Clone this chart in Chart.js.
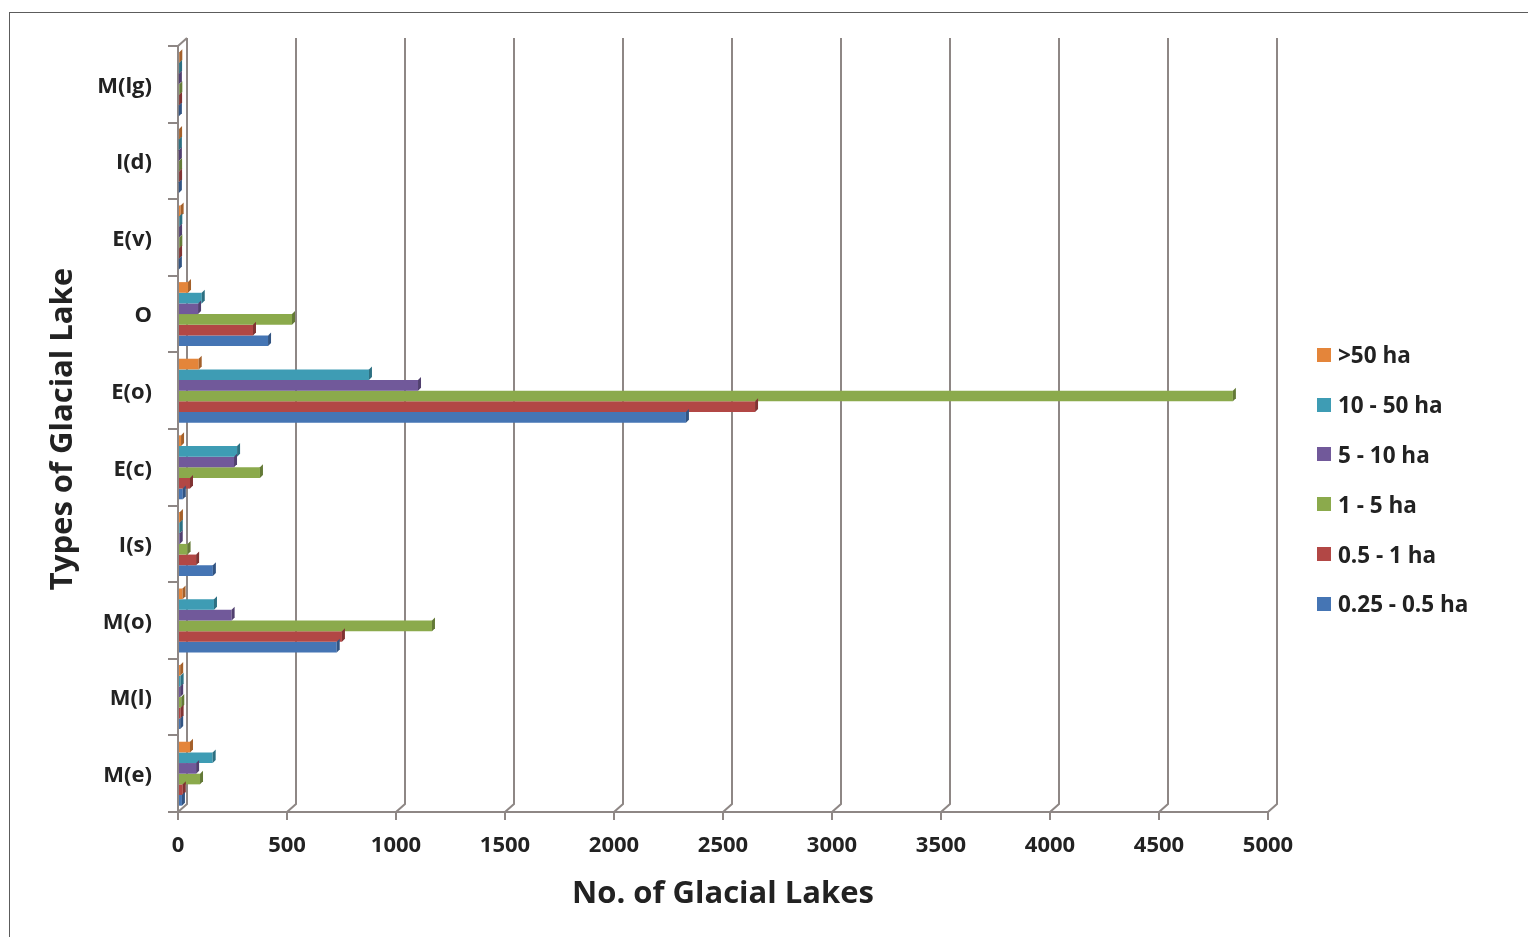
<!DOCTYPE html>
<html>
<head>
<meta charset="utf-8">
<title>Types of Glacial Lake</title>
<script src="https://cdn.jsdelivr.net/npm/chart.js@4.4.1/dist/chart.umd.min.js"></script>
<style>
  html, body { margin: 0; padding: 0; background: #fff; overflow: hidden; }
  #wrap { position: relative; width: 1528px; height: 937px; }
  #frame { position: absolute; left: 9px; top: 12px; width: 1560px; height: 960px;
           border: 1.5px solid #5c5c5c; box-sizing: border-box; }
  #chart { position: absolute; left: 0; top: 0; }
  #legend { position: absolute; left: 1317px; top: 330px; font-family: "Open Sans", Lato, sans-serif;
            font-weight: bold; font-size: 22.5px; color: #222; }
  .item { display: flex; align-items: center; height: 49.8px; white-space: nowrap; }
  .sw { width: 14px; height: 14px; margin-right: 7px; flex: none; }
</style>
</head>
<body>
<div id="wrap">
  <div id="frame"></div>
  <canvas id="chart" width="1528" height="937"></canvas>
  <div id="legend"></div>
</div>
<script>
// Lake types, top to bottom
const categories = ['M(lg)', 'I(d)', 'E(v)', 'O', 'E(o)', 'E(c)', 'I(s)', 'M(o)', 'M(l)', 'M(e)'];

// Number of lakes per size class
const over50ha   = [6, 5, 12, 46, 95, 14, 9, 21, 10, 55];
const ha10to50   = [5, 4, 6, 109, 876, 271, 8, 165, 12, 159];
const ha5to10    = [4, 4, 5, 92, 1101, 257, 8, 246, 10, 83];
const ha1to5     = [6, 5, 6, 523, 4839, 376, 44, 1165, 15, 101];
const ha05to1    = [5, 5, 5, 344, 2647, 55, 83, 752, 12, 22];
const ha025to05  = [4, 4, 4, 413, 2330, 22, 160, 728, 10, 18];

const seriesNames  = ['>50 ha', '10 - 50 ha', '5 - 10 ha', '1 - 5 ha', '0.5 - 1 ha', '0.25 - 0.5 ha'];
const seriesValues = [over50ha, ha10to50, ha5to10, ha1to5, ha05to1, ha025to05];
const seriesColors = ['#E4853A', '#3E9CB4', '#71599A', '#8BAA4C', '#B24745', '#4575B4'];

// x axis range
const xMin = 0, xMax = 5000, xStep = 500;

const FONT = '"Open Sans", Lato, sans-serif';
const TEXT = '#222';
const LINE = '#8e8785';

function shade(hex, f) {
  const n = parseInt(hex.slice(1), 16);
  const r = Math.round(((n >> 16) & 255) * f), g = Math.round(((n >> 8) & 255) * f), b = Math.round((n & 255) * f);
  return `rgb(${r},${g},${b})`;
}

// Back wall of the pseudo-3D plot: vertical grid lines shifted up-right, joined to the floor
const DX = 9, DY = 8;
const wall3d = {
  id: 'wall3d',
  beforeDatasetsDraw(chart) {
    const { ctx, chartArea: { top, bottom, left }, scales: { x } } = chart;
    ctx.save();
    ctx.strokeStyle = LINE;
    ctx.lineWidth = 2;
    x.ticks.forEach(t => {
      const px = x.getPixelForValue(t.value);
      ctx.beginPath();
      ctx.moveTo(px + DX, top - DY);
      ctx.lineTo(px + DX, bottom - DY);
      ctx.lineTo(px, bottom);
      ctx.stroke();
    });
    ctx.beginPath();
    ctx.moveTo(left, top);
    ctx.lineTo(left + DX, top - DY);
    ctx.stroke();
    ctx.restore();
  }
};

// Darker end face on every bar for the extruded look
const barDepth = {
  id: 'barDepth',
  afterDatasetsDraw(chart) {
    const { ctx } = chart;
    const d = 3;
    ctx.save();
    chart.data.datasets.forEach((ds, i) => {
      const meta = chart.getDatasetMeta(i);
      const end = shade(seriesColors[i], 0.72);
      meta.data.forEach(bar => {
        const { x, y, height } = bar.getProps(['x', 'y', 'height'], true);
        const y0 = y - height / 2, y1 = y + height / 2;
        ctx.fillStyle = end;
        ctx.beginPath();
        ctx.moveTo(x, y0);
        ctx.lineTo(x + d, y0 - d);
        ctx.lineTo(x + d, y1 - d);
        ctx.lineTo(x, y1);
        ctx.closePath();
        ctx.fill();
      });
    });
    ctx.restore();
  }
};

const ctx = document.getElementById('chart').getContext('2d');
new Chart(ctx, {
  type: 'bar',
  data: {
    labels: categories,
    datasets: seriesNames.map((name, i) => ({
      label: name,
      data: seriesValues[i],
      backgroundColor: seriesColors[i],
      borderWidth: 0,
      barPercentage: 1,
      categoryPercentage: 0.835
    }))
  },
  options: {
    indexAxis: 'y',
    responsive: false,
    animation: false,
    devicePixelRatio: 1,
    layout: { padding: { left: 41, top: 46, right: 260, bottom: 20 } },
    plugins: { legend: { display: false }, tooltip: { enabled: false } },
    scales: {
      x: {
        min: xMin, max: xMax,
        ticks: { stepSize: xStep, color: TEXT, padding: 13, maxRotation: 0, autoSkip: false,
                 callback: v => String(v),
                 font: { family: FONT, weight: 'bold', size: 22 } },
        grid: { drawOnChartArea: false, color: LINE, lineWidth: 2, tickLength: 8 },
        border: { display: true, color: LINE, width: 2 },
        title: { display: true, text: 'No. of Glacial Lakes', color: TEXT,
                 font: { family: FONT, weight: 'bold', size: 31 } },
        afterFit(scale) { scale.height = 105; }
      },
      y: {
        ticks: { color: TEXT, padding: 16, labelOffset: 2, font: { family: FONT, weight: 'bold', size: 22 } },
        grid: { drawOnChartArea: false, offset: true, color: LINE, lineWidth: 2, tickLength: 10 },
        border: { display: true, color: LINE, width: 2 },
        title: { display: true, text: 'Types of Glacial Lake', color: TEXT,
                 font: { family: FONT, weight: 'bold', size: 31 } },
        afterFit(scale) { scale.width = 137; }
      }
    }
  },
  plugins: [wall3d, barDepth]
});

// Legend
const legend = document.getElementById('legend');
seriesNames.forEach((name, i) => {
  const item = document.createElement('div');
  item.className = 'item';
  const sw = document.createElement('span');
  sw.className = 'sw';
  sw.style.background = seriesColors[i];
  const label = document.createElement('span');
  label.textContent = name;
  item.appendChild(sw);
  item.appendChild(label);
  legend.appendChild(item);
});
</script>
</body>
</html>
